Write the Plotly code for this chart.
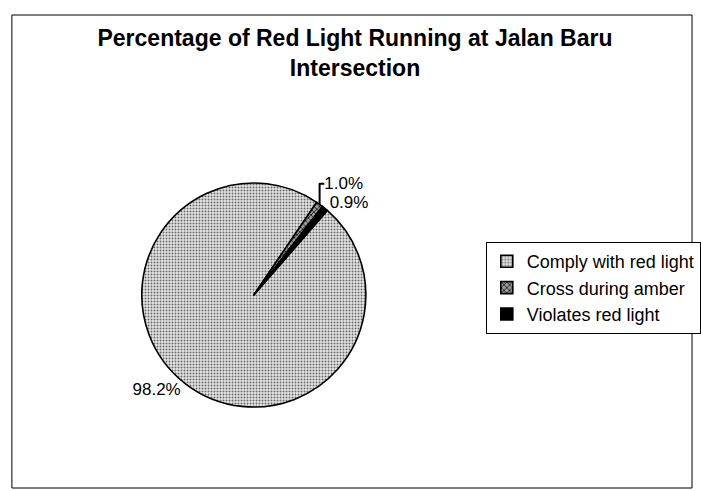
import plotly.graph_objects as go

categories = ["Comply with red light", "Cross during amber", "Violates red light"]
values = [98.2, 1.0, 0.9]
label_text = ["98.2%", "1.0%", "0.9%"]

W, H = 701, 491

fig = go.Figure()
fig.add_trace(go.Pie(
    labels=categories,
    values=values,
    text=label_text,
    textinfo="text",
    textposition="outside",
    sort=False,
    direction="clockwise",
    rotation=41,
    marker=dict(
        colors=["#d0d0d0", "#707070", "#000000"],
        line=dict(color="black", width=1.6),
        pattern=dict(shape=[".", "x", ""], fgcolor=["#6a6a6a", "#222222", "#000000"],
                     bgcolor=["#e6e6e6", "#9a9a9a", "#000000"], size=[3, 4, 4], solidity=[0.35, 0.4, 1]),
    ),
    outsidetextfont=dict(family="Arial, Liberation Sans", size=17, color="black"),
    domain=dict(x=[143 / W, 369 / W], y=[(H - 408) / H, (H - 182) / H]),
    showlegend=True,
))

fig.update_layout(
    width=W, height=H,
    margin=dict(l=0, r=0, t=0, b=0),
    paper_bgcolor="white",
    plot_bgcolor="white",
    font=dict(family="Arial, Liberation Sans", color="black"),
    title=dict(
        text="<b>Percentage of Red Light Running at Jalan Baru<br>Intersection</b>",
        x=355 / W, xanchor="center", xref="container",
        y=1 - 46 / H, yanchor="top", yref="container",
        font=dict(family="Arial, Liberation Sans", size=23, color="black"),
    ),
    legend=dict(
        x=490 / W, xanchor="left",
        y=(H - 242) / H, yanchor="top",
        bordercolor="black", borderwidth=1,
        bgcolor="white",
        font=dict(family="Arial, Liberation Sans", size=18, color="black"),
    ),
    shapes=[dict(type="rect", xref="paper", yref="paper",
                 x0=12 / W, x1=698 / W, y0=(H - 488) / H, y1=(H - 15) / H,
                 line=dict(color="black", width=1), fillcolor="rgba(0,0,0,0)", layer="below")],
)

fig.write_html("out.html")
